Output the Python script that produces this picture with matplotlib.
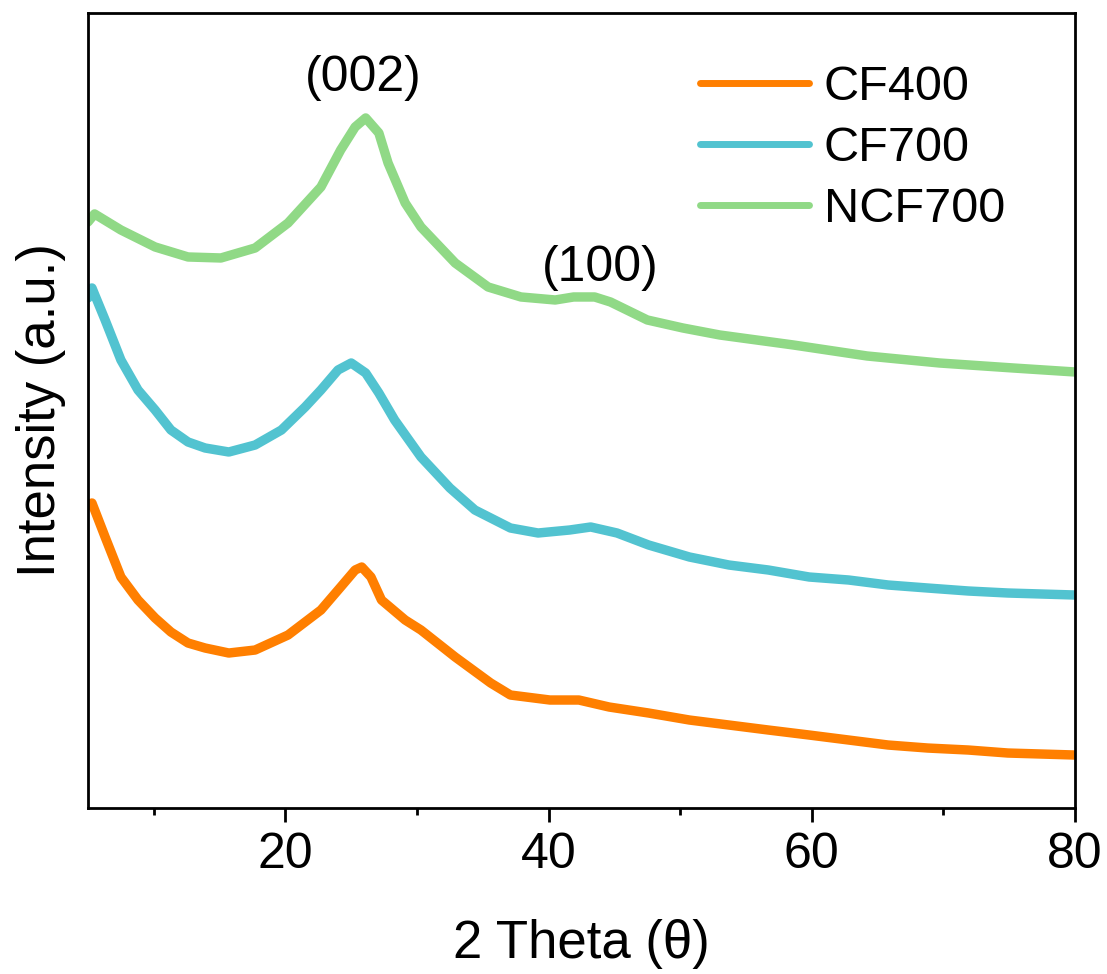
import matplotlib
matplotlib.use("Agg")
import matplotlib.pyplot as plt

plt.rcParams['font.family'] = ['Liberation Sans', 'DejaVu Sans']

# ---- data (intensity in arbitrary units) ----
theta_cf400 = [5.0, 5.3, 6.3, 7.5, 8.8, 10.1, 11.3, 12.6, 13.9, 15.7, 17.7, 20.2, 22.7,
               24.2, 25.3, 25.8, 26.5, 27.3, 29.1, 30.3, 32.9, 35.6, 37.1, 40.1, 42.3,
               44.6, 47.6, 50.7, 53.7, 56.7, 59.8, 62.8, 65.8, 68.8, 71.9, 74.9, 80.0]
int_cf400 = [303, 305, 271, 231, 208, 190, 176, 165, 160, 155, 158, 173, 198,
             221, 238, 241, 231, 208, 188, 178, 151, 125, 113, 108, 108,
             101, 95, 88, 83, 78, 73, 68, 63, 60, 58, 55, 53]

theta_cf700 = [5.0, 5.3, 6.3, 7.5, 8.8, 10.1, 11.3, 12.6, 13.9, 15.7, 17.7, 19.7, 21.5,
               22.7, 24.0, 25.0, 26.1, 27.1, 28.3, 30.3, 32.5, 34.4, 37.1, 39.2, 41.6,
               43.2, 45.2, 47.6, 50.7, 53.7, 56.7, 59.8, 62.8, 65.8, 68.8, 71.9, 74.9, 80.0]
int_cf700 = [510, 520, 488, 448, 418, 398, 378, 366, 360, 356, 363, 378, 401,
             418, 438, 445, 435, 415, 388, 351, 320, 298, 280, 275, 278,
             281, 275, 263, 251, 243, 238, 231, 228, 223, 220, 217, 215, 213]

theta_ncf700 = [5.0, 5.5, 7.5, 10.1, 12.6, 15.1, 17.7, 20.2, 22.7, 24.2, 25.3, 26.1, 27.1,
                27.8, 29.1, 30.3, 32.9, 35.4, 37.9, 40.5, 41.9, 43.5, 44.7, 47.5, 50.2,
                53.0, 58.6, 64.2, 69.7, 75.3, 80.0]
int_ncf700 = [586, 594, 578, 561, 551, 550, 560, 585, 621, 658, 681, 690, 675,
              645, 605, 581, 545, 521, 511, 508, 511, 511, 506, 488, 480,
              473, 463, 452, 445, 440, 436]

labels = ['CF400', 'CF700', 'NCF700']
colors = ['#FF7F00', '#52C3D0', '#90D986']

peak_labels = ['(002)', '(100)']
peak_pos = [(25.9, 730), (43.9, 540)]

# ---- figure ----
fig = plt.figure(figsize=(11.07, 9.74), dpi=100)
ax = fig.add_axes([0.0795, 0.1704, 0.8916, 0.8163])

series = [(theta_cf400, int_cf400), (theta_cf700, int_cf700), (theta_ncf700, int_ncf700)]
for (x, y), lab, c in zip(series, labels, colors):
    ax.plot(x, y, color=c, lw=6.8, label=lab, solid_capstyle='round', solid_joinstyle='round')

for txt, (px, py) in zip(peak_labels, peak_pos):
    ax.text(px, py, txt, ha='center', va='center', fontsize=36)

ax.set_xlim(5, 80)
ax.set_ylim(0, 795)
ax.set_xticks([20, 40, 60, 80])
ax.set_xticks([10, 30, 50, 70], minor=True)
ax.set_yticks([])
ax.tick_params(axis='x', which='major', length=10, width=2, labelsize=36, pad=7, direction='out')
ax.tick_params(axis='x', which='minor', length=5, width=2, direction='out')
for s in ax.spines.values():
    s.set_linewidth(2)

ax.set_xlabel('2 Theta (θ)', fontsize=38, labelpad=30)
ax.set_ylabel('Intensity (a.u.)', fontsize=38, labelpad=16)

leg = ax.legend(loc='upper left', bbox_to_anchor=(0.62, 0.935), frameon=False, fontsize=35,
                handlelength=2.25, handletextpad=0.3, labelspacing=0.33, borderpad=0,
                borderaxespad=0)
for h in leg.get_lines():
    h.set_linewidth(5)

fig.savefig('out.png', dpi=100)
